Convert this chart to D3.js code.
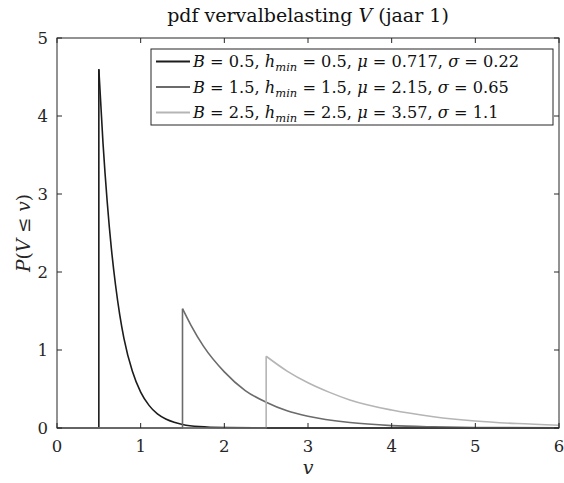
<!DOCTYPE html>
<html>
<head>
<meta charset="utf-8">
<script src="https://cdn.jsdelivr.net/npm/d3@7"></script>
<style>
  body { margin: 0; background: #fff; }
  text { font-family: "DejaVu Serif", "Liberation Serif", serif; }
</style>
</head>
<body>
<svg id="chart" width="564" height="483"></svg>
<script>
// values
const xTicks = [0, 1, 2, 3, 4, 5, 6];
const yTicks = [0, 1, 2, 3, 4, 5];

// B = 0.5
const rise1 = [[0, 0], [0.5, 0], [0.5, 4.6]];
const decay1 = [[0.5, 4.6], [0.55, 3.65], [0.6, 2.9], [0.65, 2.3], [0.7, 1.83], [0.75, 1.45],
  [0.8, 1.15], [0.9, 0.73], [1.0, 0.46], [1.1, 0.29], [1.2, 0.18], [1.3, 0.115], [1.4, 0.073],
  [1.5, 0.046], [1.7, 0.018], [2.0, 0.005], [2.5, 0.0005], [3, 0], [6, 0]];
// B = 1.5
const rise2 = [[0, 0], [1.5, 0], [1.5, 1.53]];
const decay2 = [[1.5, 1.53], [1.6, 1.32], [1.75, 1.05], [2.0, 0.72], [2.25, 0.48], [2.5, 0.33],
  [2.75, 0.22], [3.0, 0.15], [3.5, 0.07], [4.0, 0.031], [4.5, 0.015], [5.0, 0.007], [6.0, 0.0015]];
// B = 2.5
const rise3 = [[0, 0], [2.5, 0], [2.5, 0.92]];
const decay3 = [[2.5, 0.92], [2.75, 0.73], [3.0, 0.58], [3.25, 0.46], [3.5, 0.36], [4.0, 0.23],
  [4.5, 0.145], [5.0, 0.09], [5.5, 0.057], [6.0, 0.036]];

const seriesColors = ["#1c1c1c", "#6b6b6b", "#b5b5b5"];
const legendRows = [
  ["0.5", "0.5", "0.717", "0.22"],
  ["1.5", "1.5", "2.15", "0.65"],
  ["2.5", "2.5", "3.57", "1.1"],
];

const svg = d3.select("#chart");
const margin = { left: 57, right: 5, top: 38, bottom: 55 };
const W = 564, H = 483;
const axisColor = "#262626";

const x = d3.scaleLinear().domain([0, 6]).range([margin.left, W - margin.right]);
const y = d3.scaleLinear().domain([0, 5]).range([H - margin.bottom, margin.top]);

// curves
const lineLin = d3.line().x((d) => x(d[0])).y((d) => y(d[1]));
const lineSmooth = d3.line().x((d) => x(d[0])).y((d) => y(d[1])).curve(d3.curveMonotoneX);

const series = [[rise1, decay1], [rise2, decay2], [rise3, decay3]];
const curveG = svg.append("g");
series.forEach(([rise, decay], i) => {
  const g = curveG.append("g")
    .attr("fill", "none")
    .attr("stroke", seriesColors[i])
    .attr("stroke-width", 1.6)
    .style("stroke-linejoin", "round");
  g.append("path").attr("d", lineLin(rise));
  g.append("path").attr("d", lineSmooth(decay));
});

// axes box with inward ticks on all sides
const tickLen = 5;
const axisG = svg.append("g").attr("stroke", axisColor).attr("stroke-width", 1);
axisG.append("rect")
  .attr("x", x(0)).attr("y", y(5))
  .attr("width", x(6) - x(0)).attr("height", y(0) - y(5))
  .attr("fill", "none");

axisG.selectAll(".xt").data(xTicks).join("g").attr("class", "xt")
  .each(function (d) {
    const g = d3.select(this);
    g.append("line").attr("x1", x(d)).attr("x2", x(d)).attr("y1", y(0)).attr("y2", y(0) - tickLen);
    g.append("line").attr("x1", x(d)).attr("x2", x(d)).attr("y1", y(5)).attr("y2", y(5) + tickLen);
  });
axisG.selectAll(".yt").data(yTicks).join("g").attr("class", "yt")
  .each(function (d) {
    const g = d3.select(this);
    g.append("line").attr("x1", x(0)).attr("x2", x(0) + tickLen).attr("y1", y(d)).attr("y2", y(d));
    g.append("line").attr("x1", x(6)).attr("x2", x(6) - tickLen).attr("y1", y(d)).attr("y2", y(d));
  });

svg.selectAll(".xl").data(xTicks).join("text").attr("class", "xl")
  .attr("x", (d) => x(d)).attr("y", y(0) + 24)
  .attr("text-anchor", "middle").attr("font-size", 16.5).attr("fill", axisColor)
  .text((d) => d);
svg.selectAll(".yl").data(yTicks).join("text").attr("class", "yl")
  .attr("x", x(0) - 9).attr("y", (d) => y(d) + 6)
  .attr("text-anchor", "end").attr("font-size", 16.5).attr("fill", axisColor)
  .text((d) => d);

// title and axis labels
const title = svg.append("text")
  .attr("x", (x(0) + x(6)) / 2).attr("y", 22)
  .attr("text-anchor", "middle").attr("font-size", 19).attr("fill", "#111");
title.append("tspan").text("pdf vervalbelasting ");
title.append("tspan").attr("font-style", "italic").text("V");
title.append("tspan").text(" (jaar 1)");

svg.append("text")
  .attr("x", (x(0) + x(6)) / 2).attr("y", 474)
  .attr("text-anchor", "middle").attr("font-size", 19).attr("font-style", "italic")
  .attr("fill", axisColor).text("v");

const ylab = svg.append("text")
  .attr("transform", `translate(30,${(y(0) + y(5)) / 2}) rotate(-90)`)
  .attr("text-anchor", "middle").attr("font-size", 18.5).attr("fill", axisColor);
ylab.append("tspan").attr("font-style", "italic").text("P");
ylab.append("tspan").text("(");
ylab.append("tspan").attr("font-style", "italic").text("V");
ylab.append("tspan").text(" ≤ ");
ylab.append("tspan").attr("font-style", "italic").text("v");
ylab.append("tspan").text(")");

// legend
const leg = { x: 151, y: 49, w: 402, h: 76 };
const legG = svg.append("g");
legG.append("rect")
  .attr("x", leg.x).attr("y", leg.y).attr("width", leg.w).attr("height", leg.h)
  .attr("fill", "#fff").attr("stroke", axisColor).attr("stroke-width", 1);

legendRows.forEach((r, i) => {
  const cy = leg.y + 12.5 + i * 25.5;
  legG.append("line")
    .attr("x1", leg.x + 5).attr("x2", leg.x + 39).attr("y1", cy).attr("y2", cy)
    .attr("stroke", seriesColors[i]).attr("stroke-width", 1.8);
  const t = legG.append("text")
    .attr("x", leg.x + 42).attr("y", cy + 5.5)
    .attr("font-size", 16.2).attr("fill", "#111");
  t.append("tspan").attr("font-style", "italic").text("B");
  t.append("tspan").text(" = " + r[0] + ", ");
  t.append("tspan").attr("font-style", "italic").text("h");
  t.append("tspan").attr("font-style", "italic").attr("font-size", 11.5).attr("dy", 4).text("min");
  t.append("tspan").attr("dy", -4).text(" = " + r[1] + ", ");
  t.append("tspan").attr("font-style", "italic").text("μ");
  t.append("tspan").text(" = " + r[2] + ", ");
  t.append("tspan").attr("font-style", "italic").text("σ");
  t.append("tspan").text(" = " + r[3]);
});
</script>
</body>
</html>
